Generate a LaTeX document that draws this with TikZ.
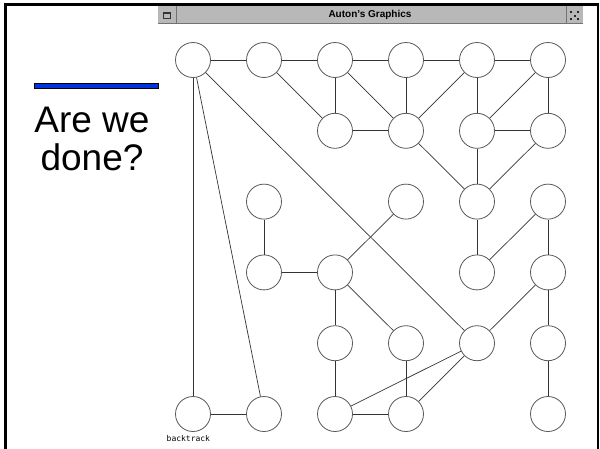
\documentclass[tikz,border=0pt]{standalone}
\usepackage{fontspec}
\setmainfont{Liberation Sans}
\newfontfamily\smallmono{DejaVu Sans Mono}
\definecolor{barblue}{RGB}{0,51,221}
\definecolor{titlegray}{RGB}{184,184,184}
\begin{document}
\begin{tikzpicture}[x=1pt,y=-1pt,
  vtx/.style={circle,draw=black!65,line width=0.8pt,minimum size=35pt,inner sep=0pt,fill=white},
  edge/.style={draw=black!80,line width=0.7pt},
  bigtext/.style={font=\fontsize{37}{40}\selectfont,anchor=base,inner sep=0pt}]
\useasboundingbox (0,0) rectangle (600,448);
\fill[white] (0,0) rectangle (600,448);
% outer frame
\draw[line width=2.2pt] (5.5,450) -- (5.5,4.5) -- (598,4.5) -- (598,450);
% title bar
\fill[titlegray] (158,6) rectangle (583,24);
\draw[black!55,line width=0.8pt] (158,23.6) -- (583,23.6);
\draw[black!55,line width=0.8pt] (176,6) -- (176,24);
\draw[black!55,line width=0.8pt] (566,6) -- (566,24);
\draw[black!80,line width=0.7pt] (163.5,12.5) rectangle (170.5,18.5);
\fill[black!80] (163.5,12.5) rectangle (170.5,14.2);
\foreach \dx/\dy in {571/12,578/12,571/19,578/19,574.5/15.5}
  \fill[black!85] (\dx-1,\dy-1) rectangle (\dx+1,\dy+1);
\node[font=\bfseries\fontsize{10}{12}\selectfont,inner sep=0pt] (title) at (370,15) {Auton's Graphics};
% left panel
\draw[fill=barblue,line width=0.9pt] (34,83.5) rectangle (158,88.5);
\node[bigtext] (l1) at (92,132) {Are we};
\node[bigtext] (l2) at (92,170) {done?};
% nodes
\foreach \c/\r in {0/0,1/0,2/0,3/0,4/0,5/0,
                   2/1,3/1,4/1,5/1,
                   1/2,3/2,4/2,5/2,
                   1/3,2/3,4/3,5/3,
                   2/4,3/4,4/4,5/4,
                   0/5,1/5,2/5,3/5,5/5}
  \node[vtx] (n\c\r) at ({193+71*\c},{60+70.8*\r}) {};
% edges
\foreach \a/\b in {00/10,10/20,20/30,30/40,40/50,
                   00/05,00/15,00/44,
                   10/21,20/21,20/31,30/31,40/31,40/41,50/41,50/51,
                   21/31,41/51,31/42,41/42,51/42,
                   12/13,13/23,32/23,42/43,52/43,52/53,
                   23/24,23/34,53/44,53/54,
                   24/25,34/35,44/25,44/35,25/35,54/55,05/15}
  \draw[edge] (n\a) -- (n\b);
\node[font=\smallmono\fontsize{8}{9}\selectfont,anchor=base west,inner sep=0pt] (bt) at (166.5,441.5) {backtrack};
\end{tikzpicture}
\end{document}
